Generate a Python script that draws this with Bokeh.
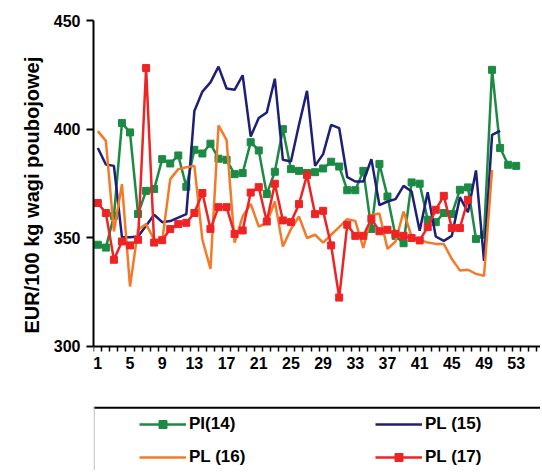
from bokeh.plotting import figure
from bokeh.models import (Range1d, FixedTicker, Legend, LegendItem, ColumnDataSource,
                          BoxAnnotation, Title)
from bokeh.embed import file_html
from bokeh.resources import INLINE

# ---- data ----
pl14 = [346.8, 345.5, 360.1, 402.8, 398.5, 361.0, 371.6, 372.4, 386.2, 384.2,
        387.9, 373.5, 390.5, 388.8, 393.3, 386.4, 385.9, 379.3, 379.8, 394.0,
        390.2, 370.1, 380.4, 400.0, 381.6, 380.8, 379.8, 380.2, 381.9, 385.0,
        382.8, 371.9, 371.9, 380.8, 354.0, 384.0, 369.0, 350.9, 347.5, 375.5,
        374.9, 358.3, 357.2, 361.4, 360.9, 372.1, 373.2, 349.5, 351.4, 427.3,
        391.3, 383.6, 383.1]
pl15 = [391.3, 383.7, 383.1, 350.3, 350.3, 350.6, 355.5, 360.6, 357.2, 357.7,
        359.3, 360.9, 408.4, 417.3, 421.5, 428.8, 418.7, 418.1, 424.8, 396.6,
        405.1, 407.7, 423.2, 385.9, 385.1, 402.0, 417.6, 383.1, 388.5, 402.0,
        400.5, 377.9, 375.9, 375.9, 386.2, 365.0, 366.7, 367.8, 373.9, 371.3,
        353.2, 371.0, 350.6, 348.6, 350.9, 368.7, 361.8, 381.0, 339.4, 397.4,
        399.2]
pl16 = [399.1, 394.6, 352.9, 374.7, 327.6, 353.7, 356.3, 349.1, 348.6, 377.0,
        381.6, 382.5, 383.1, 349.1, 335.7, 401.7, 395.1, 347.8, 359.8, 365.6,
        355.2, 356.8, 366.7, 346.0, 354.0, 359.8, 349.9, 351.4, 347.8, 351.4,
        354.9, 358.6, 357.8, 345.3, 360.5, 361.2, 344.9, 348.3, 362.1, 350.6,
        349.1, 347.8, 347.2, 347.2, 340.2, 335.0, 335.3, 333.4, 332.5, 381.3]
pl17 = [366.0, 361.4, 339.9, 348.3, 346.5, 349.1, 428.1, 347.8, 348.9, 354.0,
        356.3, 356.9, 361.4, 370.6, 354.1, 364.1, 364.1, 351.8, 353.4, 370.8,
        373.3, 357.5, 374.9, 358.0, 357.2, 365.5, 378.9, 360.9, 362.4, 346.5,
        322.5, 356.0, 350.9, 350.9, 358.8, 353.0, 353.7, 351.8, 350.9, 349.9,
        348.8, 354.9, 362.9, 369.3, 354.5, 354.5, 367.5]
series_names = ["PI(14)", "PL (15)", "PL (16)", "PL (17)"]
x_tick_labels = [1, 5, 9, 13, 17, 21, 25, 29, 33, 37, 41, 45, 49, 53]
y_ticks = [300, 350, 400, 450]
y_title = "EUR/100 kg wagi poubojowej"
Y_MIN, Y_MAX = 300, 450

colors = ["#1C8A43", "#1F1F78", "#F47A2A", "#EE2424"]
FONT = "Liberation Sans"

# ---- layout geometry (pixels) ----
W, H = 540, 470
BL, BT = 93, 20
FRAME_W, FRAME_H = W - BL, H - BT
PX_X = 8.046                    # pixels per category
PX_Y = 2.173                    # pixels per EUR
AXIS_OFF = 0.3
x0 = 0.5 - AXIS_OFF / PX_X
x1 = x0 + FRAME_W / PX_X
y0 = Y_MAX - FRAME_H / PX_Y

p = figure(width=W, height=H, output_backend="svg", toolbar_location=None,
           x_range=Range1d(x0, x1), y_range=Range1d(y0, Y_MAX),
           min_border_left=BL, min_border_top=BT, min_border_right=0,
           min_border_bottom=0)
p.outline_line_color = None
p.xgrid.visible = False
p.ygrid.visible = False
p.background_fill_color = "white"
p.border_fill_color = "white"

renderers = []
for vals, col, marker in zip([pl14, pl15, pl16, pl17], colors,
                             [True, False, False, True]):
    src = ColumnDataSource(dict(x=list(range(1, len(vals) + 1)), y=vals))
    r = [p.line("x", "y", source=src, line_color=col, line_width=2.5)]
    if marker:
        r.append(p.scatter("x", "y", source=src, marker="square", size=7,
                           fill_color=col, line_color=col))
    renderers.append(r)

# x axis, drawn at y = 300
xa = p.xaxis[0]
xa.fixed_location = Y_MIN
xa.bounds = (0.5, x1)
xa.ticker = FixedTicker(ticks=x_tick_labels,
                        minor_ticks=[i + 0.5 for i in range(0, 56)])
xa.major_tick_out = 0
xa.major_tick_in = 0
xa.minor_tick_out = 5
xa.minor_tick_in = 0
xa.minor_tick_line_color = "black"
xa.minor_tick_line_width = 1.5
xa.axis_line_width = 2
xa.axis_line_color = "black"
xa.major_label_text_font = FONT
xa.major_label_text_font_style = "bold"
xa.major_label_text_font_size = "16px"
xa.major_label_text_color = "black"
xa.major_label_standoff = 6

# y axis
ya = p.yaxis[0]
ya.bounds = (Y_MIN, Y_MAX)
ya.ticker = FixedTicker(ticks=y_ticks, minor_ticks=[])
ya.major_tick_out = 7
ya.major_tick_in = 0
ya.major_tick_line_width = 2
ya.axis_line_width = 2
ya.axis_line_color = "black"
ya.major_label_text_font = FONT
ya.major_label_text_font_style = "bold"
ya.major_label_text_font_size = "16px"
ya.major_label_text_color = "black"
ya.major_label_standoff = 6

# y axis title, placed along the 300..450 span
p.add_layout(Title(text=y_title, align="left", offset=H - BT - 313,
                   text_font=FONT, text_font_style="bold",
                   text_font_size="20px", text_color="black", standoff=16),
             "left")

# legend box: black top rule and light grey left rule
LEG_TOP_PX = 407 - 20.7         # distance of legend box top below the 450 line
box_top = Y_MAX - LEG_TOP_PX / PX_Y
p.add_layout(BoxAnnotation(top=box_top, bottom=box_top - 2 / PX_Y,
                           fill_color="black", fill_alpha=1, line_alpha=0))
p.add_layout(BoxAnnotation(right=x0 + 1.2 / PX_X, top=box_top,
                           fill_color="#BBBBBB", fill_alpha=1, line_alpha=0))

items = [LegendItem(label=n, renderers=r) for n, r in zip(series_names, renderers)]
leg = Legend(items=items, location=(46, 3), orientation="horizontal", ncols=2,
             padding=0, margin=0, spacing=13, glyph_width=47, glyph_height=20,
             label_height=20, label_standoff=3, label_width=173,
             border_line_alpha=0, background_fill_alpha=0,
             label_text_font=FONT, label_text_font_style="bold",
             label_text_font_size="17px", label_text_color="black")
p.add_layout(leg, "center")

open("out.html", "w").write(file_html(p, INLINE))
